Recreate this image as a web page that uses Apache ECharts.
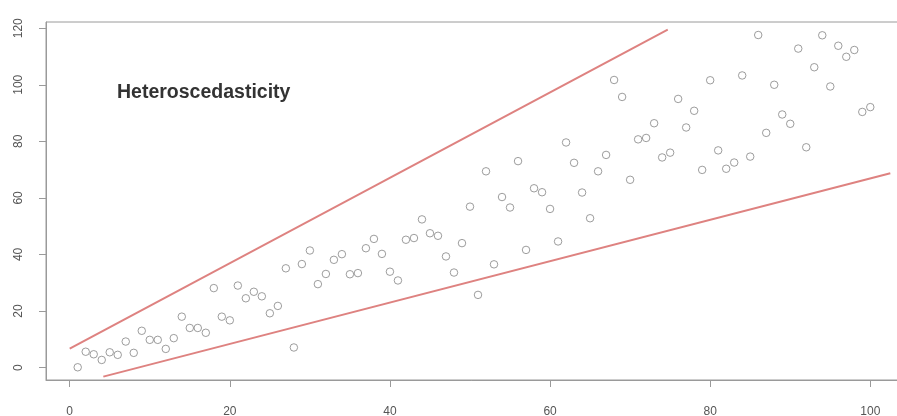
<!DOCTYPE html>
<html>
<head>
<meta charset="utf-8">
<script src="https://cdn.jsdelivr.net/npm/echarts@6/dist/echarts.min.js"></script>
<style>
html,body{margin:0;padding:0;background:#fff;}
#chart{width:897px;height:416px;}
</style>
</head>
<body>
<div id="chart"></div>
<script>
const xValues = [1,2,3,4,5,6,7,8,9,10,11,12,13,14,15,16,17,18,19,20,
  21,22,23,24,25,26,27,28,29,30,31,32,33,34,35,36,37,38,39,40,
  41,42,43,44,45,46,47,48,49,50,51,52,53,54,55,56,57,58,59,60,
  61,62,63,64,65,66,67,68,69,70,71,72,73,74,75,76,77,78,79,80,
  81,82,83,84,85,86,87,88,89,90,91,92,93,94,95,96,97,98,99,100];
const yValues = [0.1,5.6,4.7,2.7,5.4,4.5,9.2,5.2,13.0,9.8,
  9.8,6.6,10.4,18.0,14.0,14.0,12.3,28.1,18.0,16.7,
  29.0,24.5,26.8,25.2,19.2,21.8,35.1,7.1,36.6,41.4,
  29.5,33.1,38.1,40.1,33.0,33.4,42.2,45.5,40.2,33.9,
  30.8,45.2,45.8,52.4,47.5,46.6,39.3,33.6,44.0,56.9,
  25.7,69.4,36.5,60.3,56.6,73.0,41.6,63.4,62.0,56.1,
  44.6,79.6,72.4,61.9,52.8,69.4,75.2,101.7,95.7,66.4,
  80.7,81.2,86.4,74.3,76.0,95.0,84.9,90.8,69.9,101.6,
  76.8,70.3,72.5,103.3,74.6,117.6,83.0,100.0,89.5,86.2,
  112.8,77.9,106.2,117.5,99.4,113.8,109.9,112.3,90.4,92.1];
const upperLineX = [0, 74.7];
const upperLineY = [6.7, 119.5];
const lowerLineX = [4.2, 102.5];
const lowerLineY = [-3.2, 68.7];
const xTicks = [0, 20, 40, 60, 80, 100];
const yTicks = [0, 20, 40, 60, 80, 100, 120];
const annotationText = 'Heteroscedasticity';

const pts = xValues.map((x, i) => [x, yValues[i]]);
const up = upperLineX.map((x, i) => [x, upperLineY[i]]);
const lo = lowerLineX.map((x, i) => [x, lowerLineY[i]]);

const chart = echarts.init(document.getElementById('chart'));
const axisGray = '#9a9a9a';
const labelColor = '#555';
chart.setOption({
  animation: false,
  backgroundColor: '#fff',
  grid: {left: 46, top: 22, height: 358, width: 856, show: true, borderColor: axisGray, borderWidth: 1,
         containLabel: false, outerBoundsMode: 'none'},
  xAxis: {
    type: 'value', min: -2.96, max: 103.96,
    splitLine: {show: false},
    axisLine: {show: true, onZero: false, lineStyle: {color: axisGray}},
    axisTick: {show: true, length: 7, lineStyle: {color: axisGray}, customValues: xTicks},
    axisLabel: {customValues: xTicks, color: labelColor, fontFamily: 'Liberation Sans', fontSize: 12, margin: 26}
  },
  yAxis: {
    type: 'value', min: -4.4, max: 122.2,
    splitLine: {show: false},
    axisLine: {show: true, onZero: false, lineStyle: {color: axisGray}},
    axisTick: {show: true, length: 7, lineStyle: {color: axisGray}, customValues: yTicks},
    axisLabel: {customValues: yTicks, color: labelColor, fontFamily: 'Liberation Sans', fontSize: 12, rotate: 90, margin: 21}
  },
  series: [
    {type: 'scatter', data: pts, symbol: 'circle', symbolSize: 7.5,
     itemStyle: {color: 'rgba(255,255,255,0)', borderColor: '#858585', borderWidth: 1}, z: 3},
    {type: 'line', data: up, symbol: 'none', lineStyle: {color: '#de8280', width: 2}, z: 2},
    {type: 'line', data: lo, symbol: 'none', lineStyle: {color: '#de8280', width: 2}, z: 2}
  ],
  graphic: [{
    type: 'text', left: 117, top: 83,
    style: {text: annotationText, fill: '#333', font: 'bold 19.5px "Liberation Sans"'}
  }]
});
</script>
</body>
</html>
